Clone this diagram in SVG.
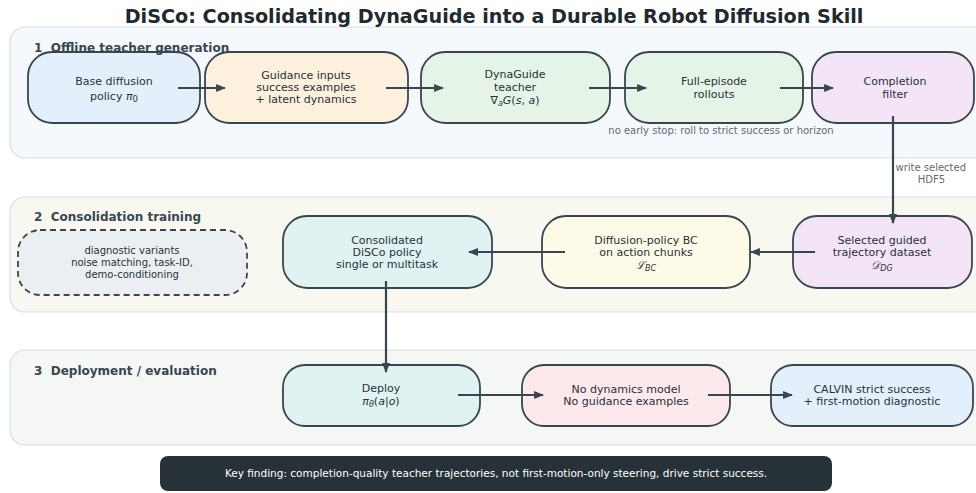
<svg xmlns="http://www.w3.org/2000/svg" width="976" height="493" viewBox="0 0 976 493">
<style>
text{font-family:"DejaVu Sans","Liberation Sans",sans-serif;fill:#263238}
.title{font-size:19.2px;font-weight:bold;text-anchor:middle;fill:#1f2a30}
.plabel{font-size:12px;font-weight:bold;fill:#37474f;white-space:pre}
.panel{stroke:#d6dde2;stroke-width:1.2}
.node{stroke:#37474f;stroke-width:1.8}
.dash{stroke:#37474f;stroke-width:1.8;stroke-dasharray:6 4;fill:#eceff1}
.t{font-size:11px;text-anchor:middle}
.ts{font-size:10px;text-anchor:middle}
.note{font-size:10px;fill:#5f6b73}
.edge{stroke:#37474f;stroke-width:2.2;fill:none}
.m{font-style:italic}
</style>
<defs>
<marker id="ah" viewBox="0 0 10 10" refX="9" refY="5" markerWidth="4.5" markerHeight="4.5" orient="auto" markerUnits="strokeWidth">
<path d="M0,1 L10,5 L0,9 Z" fill="#37474f"/>
</marker>
</defs>
<rect width="976" height="493" fill="#ffffff"/>

<g id="panel1">
<rect class="panel" x="10" y="27" width="980" height="131" rx="15" fill="#f5f8fd"/>
</g>
<g id="panel2">
<rect class="panel" x="10" y="197" width="980" height="115" rx="15" fill="#f8f8f1"/>
<text class="plabel" x="34" y="221" xml:space="preserve">2  Consolidation training</text>
</g>
<g id="panel3">
<rect class="panel" x="10" y="350" width="980" height="95" rx="15" fill="#f5f7f5"/>
<text class="plabel" x="34" y="375" xml:space="preserve">3  Deployment / evaluation</text>
</g>
<text class="title" x="494" y="23">DiSCo: Consolidating DynaGuide into a Durable Robot Diffusion Skill</text>

<g id="base">
<rect class="node" x="28" y="52" width="172" height="71" rx="24" fill="#e3f0fb"/>
<text class="t" x="114" y="85" font-size="12">Base diffusion</text>
<text class="t" x="114" y="100" font-size="12">policy <tspan class="m">π</tspan><tspan font-size="8.5" dy="2">0</tspan></text>
</g>
<g id="guidance">
<rect class="node" x="205" y="52" width="203" height="71" rx="24" fill="#fdf0dd"/>
<text class="t" x="306" y="79">Guidance inputs</text>
<text class="t" x="306" y="91">success examples</text>
<text class="t" x="306" y="103">+ latent dynamics</text>
</g>
<g id="dynaguide">
<rect class="node" x="421" y="52" width="189" height="71" rx="24" fill="#e5f4e6"/>
<text class="t" x="515" y="78" font-size="11.5">DynaGuide</text>
<text class="t" x="515" y="91" font-size="11.5">teacher</text>
<text class="t" x="515" y="104" font-size="11.5">∇<tspan font-size="8" dy="2" class="m">a</tspan><tspan dy="-2" class="m">G</tspan>(<tspan class="m">s</tspan>, <tspan class="m">a</tspan>)</text>
</g>
<g id="rollouts">
<rect class="node" x="625" y="52" width="178" height="71" rx="24" fill="#e5f4e6"/>
<text class="t" x="714" y="85" font-size="11.5">Full-episode</text>
<text class="t" x="714" y="98" font-size="11.5">rollouts</text>
</g>
<g id="completion">
<rect class="node" x="812" y="52" width="162" height="71" rx="24" fill="#f3e5f5"/>
<text class="t" x="895" y="85" font-size="11.5">Completion</text>
<text class="t" x="895" y="98" font-size="11.5">filter</text>
</g>
<text class="plabel" x="34" y="52" xml:space="preserve">1  Offline teacher generation</text>

<g id="variants">
<rect class="dash" x="18" y="230" width="229" height="65" rx="22"/>
<text class="ts" x="132" y="254">diagnostic variants</text>
<text class="ts" x="132" y="266">noise matching, task-ID,</text>
<text class="ts" x="132" y="278">demo-conditioning</text>
</g>
<g id="consolidated">
<rect class="node" x="283" y="216" width="209" height="72" rx="24" fill="#e0f2f1"/>
<text class="t" x="387" y="244">Consolidated</text>
<text class="t" x="387" y="256">DiSCo policy</text>
<text class="t" x="387" y="268">single or multitask</text>
</g>
<g id="bc">
<rect class="node" x="542" y="216" width="208" height="72" rx="24" fill="#fdfbe8"/>
<text class="t" x="646" y="244">Diffusion-policy BC</text>
<text class="t" x="646" y="256">on action chunks</text>
<text class="t" x="646" y="269"><tspan class="m" font-family="'Liberation Serif',serif">ℒ</tspan><tspan class="m" font-size="8" dy="2">BC</tspan></text>
</g>
<g id="selected">
<rect class="node" x="793" y="216" width="179" height="72" rx="24" fill="#f3e5f5"/>
<text class="t" x="882" y="244">Selected guided</text>
<text class="t" x="882" y="256">trajectory dataset</text>
<text class="t" x="882" y="269"><tspan class="m" font-family="'Liberation Serif',serif">𝒟</tspan><tspan class="m" font-size="8" dy="2">DG</tspan></text>
</g>

<g id="deploy">
<rect class="node" x="283" y="365" width="197" height="61" rx="22" fill="#e0f2f1"/>
<text class="t" x="381" y="392">Deploy</text>
<text class="t" x="381" y="405"><tspan class="m">π</tspan><tspan class="m" font-size="8" dy="2">θ</tspan><tspan dy="-2">(</tspan><tspan class="m">a</tspan>|<tspan class="m">o</tspan>)</text>
</g>
<g id="nodyn">
<rect class="node" x="522" y="365" width="208" height="61" rx="22" fill="#fde8eb"/>
<text class="t" x="626" y="393">No dynamics model</text>
<text class="t" x="626" y="405">No guidance examples</text>
</g>
<g id="calvin">
<rect class="node" x="771" y="365" width="202" height="61" rx="22" fill="#e3f0fb"/>
<text class="t" x="872" y="393">CALVIN strict success</text>
<text class="t" x="872" y="405">+ first-motion diagnostic</text>
</g>

<g id="connectors">
<line class="edge" x1="178" y1="88" x2="225" y2="88" marker-end="url(#ah)"/>
<line class="edge" x1="386" y1="88" x2="443" y2="88" marker-end="url(#ah)"/>
<line class="edge" x1="589" y1="88" x2="646" y2="88" marker-end="url(#ah)"/>
<line class="edge" x1="780" y1="88" x2="833" y2="88" marker-end="url(#ah)"/>
<line class="edge" x1="893" y1="116" x2="893" y2="223" marker-end="url(#ah)"/>
<line class="edge" x1="815" y1="252" x2="751" y2="252" marker-end="url(#ah)"/>
<line class="edge" x1="565" y1="252" x2="469" y2="252" marker-end="url(#ah)"/>
<line class="edge" x1="386" y1="281" x2="386" y2="372" marker-end="url(#ah)"/>
<line class="edge" x1="458" y1="395" x2="543" y2="395" marker-end="url(#ah)"/>
<line class="edge" x1="708" y1="395" x2="792" y2="395" marker-end="url(#ah)"/>
<text class="note" x="721" y="134" text-anchor="middle">no early stop: roll to strict success or horizon</text>
<text class="note" x="966" y="171" text-anchor="end" font-size="9.5">write selected</text>
<text class="note" x="945" y="183" text-anchor="end" font-size="9.5">HDF5</text>
</g>

<g id="keyfinding">
<rect x="160" y="456" width="672" height="35" rx="8" fill="#263238"/>
<text x="496" y="477" text-anchor="middle" font-size="10.5" style="fill:#ffffff">Key finding: completion-quality teacher trajectories, not first-motion-only steering, drive strict success.</text>
</g>
</svg>
